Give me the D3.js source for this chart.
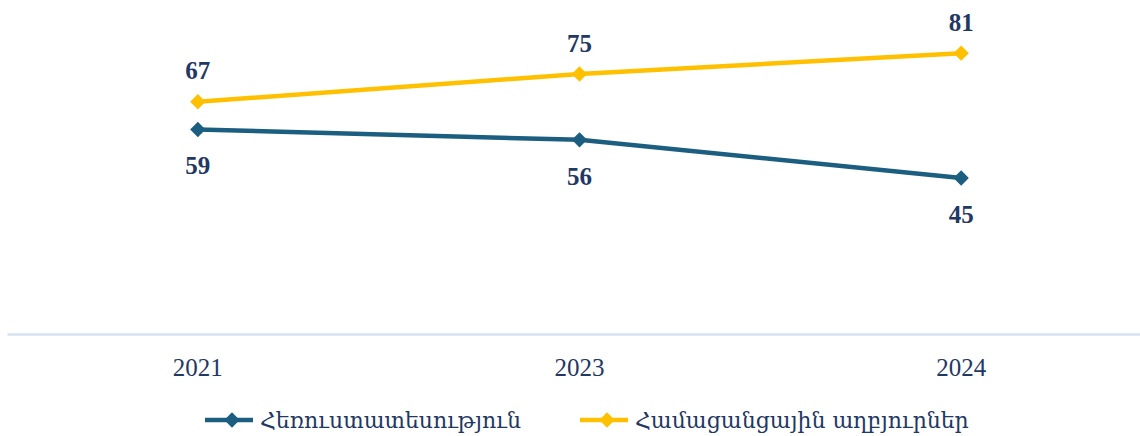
<!DOCTYPE html>
<html>
<head>
<meta charset="utf-8">
<script src="https://cdn.jsdelivr.net/npm/d3@7"></script>
<style>
  body { margin: 0; background: #fff; }
  svg { display: block; }
  .serif { font-family: "Liberation Serif", Tinos, "Times New Roman", Times, serif; }
</style>
</head>
<body>
<div id="chart"></div>
<script>
// chart data
var years = ["2021", "2023", "2024"];
var seriesNames = ["Հեռուստատեսություն", "Համացանցային աղբյուրներ"];
var tvValues = [59, 56, 45];
var webValues = [67, 75, 81];
var colors = ["#1b5e80", "#ffc000"];

var width = 1140, height = 436;

var svg = d3.select("#chart").append("svg")
    .attr("width", width)
    .attr("height", height);

var x = d3.scaleBand()
    .domain(years)
    .range([7, 1152]);

var y = d3.scaleLinear()
    .domain([0, 90])
    .range([334, 22]);

// x axis
var xAxis = svg.append("g")
    .attr("transform", "translate(0,334)")
    .call(d3.axisBottom(x).tickSize(0).tickPadding(24));
xAxis.select(".domain")
    .attr("stroke", "#d6e2f2")
    .attr("stroke-width", 2.5);
xAxis.selectAll("text")
    .attr("class", "serif")
    .attr("fill", "#1f3864")
    .style("font-size", "25px");
xAxis.attr("font-family", null);

var series = [
    { name: seriesNames[0], values: tvValues, color: colors[0], above: false },
    { name: seriesNames[1], values: webValues, color: colors[1], above: true }
];

var line = d3.line()
    .x(function(d, i) { return x(years[i]) + x.bandwidth() / 2; })
    .y(function(d) { return y(d); });

var diamond = d3.symbol().type(d3.symbolDiamond2).size(150);

series.forEach(function(s) {
    var g = svg.append("g");
    g.append("path")
        .datum(s.values)
        .attr("d", line)
        .attr("fill", "none")
        .attr("stroke", s.color)
        .attr("stroke-width", 4.5);

    g.selectAll("path.marker")
        .data(s.values)
        .enter().append("path")
        .attr("class", "marker")
        .attr("d", diamond)
        .attr("fill", s.color)
        .attr("transform", function(d, i) {
            return "translate(" + (x(years[i]) + x.bandwidth() / 2) + "," + y(d) + ")";
        });

    g.selectAll("text")
        .data(s.values)
        .enter().append("text")
        .attr("class", "serif")
        .attr("x", function(d, i) { return x(years[i]) + x.bandwidth() / 2; })
        .attr("y", function(d) { return s.above ? y(d) - 31 : y(d) + 36; })
        .attr("dy", "0.35em")
        .attr("text-anchor", "middle")
        .attr("fill", "#1f3864")
        .style("font-weight", "bold")
        .style("font-size", "25px")
        .text(function(d) { return d; });
});

// legend
var legendX = [205, 580];
var legend = svg.append("g");
series.forEach(function(s, i) {
    var lg = legend.append("g")
        .attr("transform", "translate(" + legendX[i] + ",420)");
    lg.append("line")
        .attr("x1", 0).attr("x2", 48)
        .attr("stroke", s.color)
        .attr("stroke-width", 4.5);
    lg.append("path")
        .attr("d", diamond)
        .attr("fill", s.color)
        .attr("transform", "translate(27,0)");
    lg.append("text")
        .attr("x", 55)
        .attr("dy", "0.35em")
        .attr("fill", "#1f3864")
        .style("font-family", "'DejaVu Serif', 'Noto Sans', serif")
        .style("font-size", "22px")
        .text(s.name);
});
</script>
</body>
</html>
